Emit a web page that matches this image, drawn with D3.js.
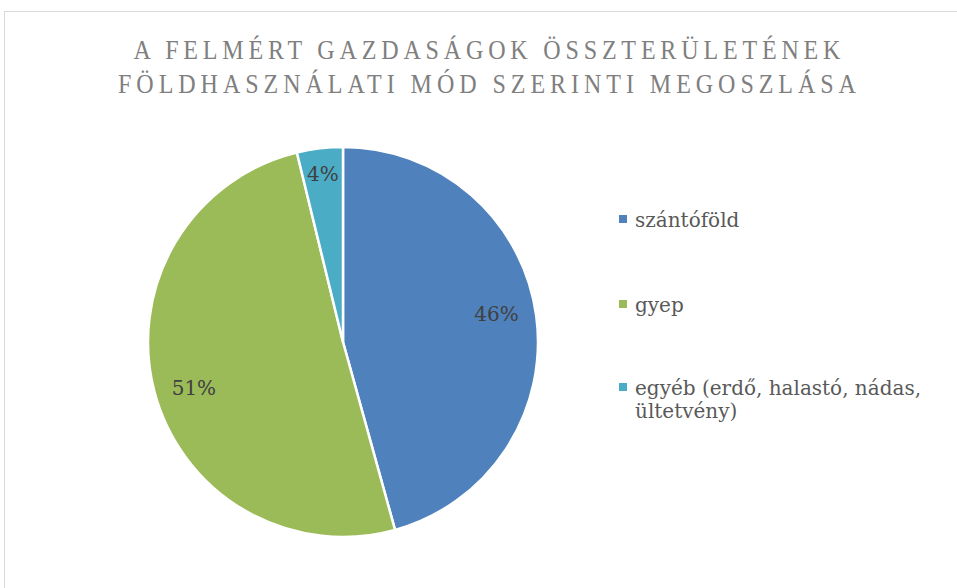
<html>
<head>
<meta charset="utf-8">
<style>
  body { margin: 0; background: #fff; }
  text { font-family: "DejaVu Serif", "Liberation Serif", serif; }
</style>
<script src="https://d3js.org/d3.v7.min.js"></script>
</head>
<body>
<svg width="957" height="588"></svg>
<script>
var categories = ["szántóföld", "gyep", "egyéb (erdő, halastó, nádas, ültetvény)"];
var legendLines = [["szántóföld"], ["gyep"], ["egyéb (erdő, halastó, nádas,", "ültetvény)"]];
var values = [45.7, 50.5, 3.8];
var labels = ["46%", "51%", "4%"];
var colors = ["#4F81BD", "#9BBB59", "#4BACC6"];
var titleLines = ["A FELMÉRT GAZDASÁGOK ÖSSZTERÜLETÉNEK", "FÖLDHASZNÁLATI MÓD SZERINTI MEGOSZLÁSA"];

var svg = d3.select("svg");

// chart frame (runs off the right and bottom)
svg.append("rect")
   .attr("x", 4.5).attr("y", 11.5)
   .attr("width", 1000).attr("height", 1000)
   .attr("fill", "none")
   .attr("stroke", "#d9d9d9");

// title - narrow serif, widely spaced
var titleWidths = [707, 738];
var sx = 0.86;
svg.selectAll(".title")
   .data(titleLines)
   .enter().append("text")
   .attr("class", "title")
   .attr("transform", function(d, i) { return "translate(487," + (59 + i * 34) + ") scale(" + sx + ",1)"; })
   .attr("text-anchor", "middle")
   .attr("fill", "#7f7f7f")
   .attr("font-size", "28px")
   .style("font-family", "'Liberation Serif', serif")
   .attr("textLength", function(d, i) { return titleWidths[i] / sx; })
   .attr("lengthAdjust", "spacing")
   .text(function(d) { return d; });

var cx = 343, cy = 342, radius = 195;

var pie = d3.pie().sort(null).value(function(d) { return d; });
var arc = d3.arc().innerRadius(0).outerRadius(radius);

var g = svg.append("g").attr("transform", "translate(" + cx + "," + cy + ")");

var arcs = pie(values);

g.selectAll(".slice")
 .data(arcs)
 .enter().append("path")
 .attr("class", "slice")
 .attr("d", arc)
 .attr("fill", function(d, i) { return colors[i]; })
 .attr("stroke", "#fff")
 .attr("stroke-width", 2.5);

// data labels, big slices rotated back a little like Excel's best fit
g.selectAll(".lbl")
 .data(arcs)
 .enter().append("text")
 .attr("class", "lbl")
 .attr("transform", function(d) {
   var small = (d.endAngle - d.startAngle) < 0.35;
   var r = radius * (small ? 0.87 : 0.8);
   var a = (d.startAngle + d.endAngle) / 2 + (small ? 0 : -2.5 * Math.PI / 180);
   return "translate(" + (r * Math.sin(a)) + "," + (-r * Math.cos(a)) + ")";
 })
 .attr("text-anchor", "middle")
 .attr("dy", "0.35em")
 .attr("fill", "#404040")
 .attr("font-size", "20px")
 .text(function(d, i) { return labels[i]; });

// legend
var legendY = [227, 312, 395];
var legend = svg.selectAll(".legend")
   .data(categories)
   .enter().append("g")
   .attr("class", "legend")
   .attr("transform", function(d, i) { return "translate(619," + legendY[i] + ")"; });

legend.append("rect")
   .attr("x", 0).attr("y", -12)
   .attr("width", 8).attr("height", 8)
   .attr("fill", function(d, i) { return colors[i]; });

legend.each(function(d, i) {
  var t = d3.select(this).append("text")
     .attr("x", 16).attr("y", 0)
     .attr("fill", "#595959")
     .attr("font-size", "20px");
  legendLines[i].forEach(function(line, j) {
    t.append("tspan").attr("x", 16).attr("dy", j === 0 ? 0 : 23).text(line);
  });
});
</script>
</body>
</html>
